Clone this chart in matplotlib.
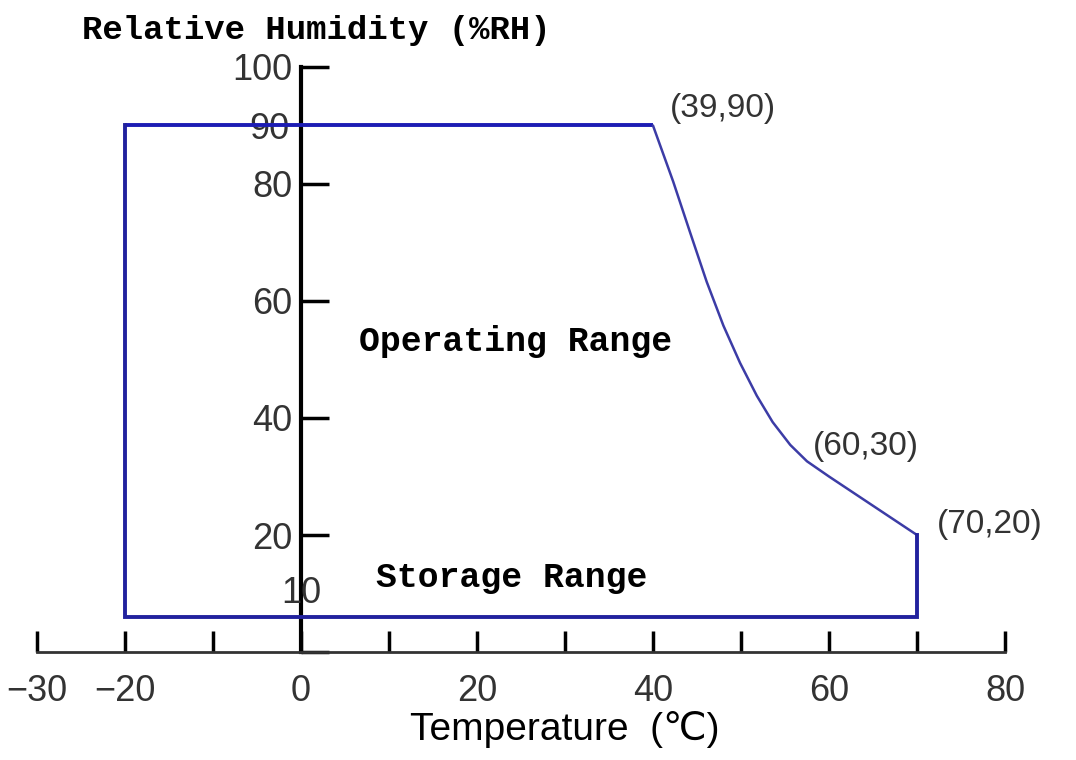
import matplotlib.pyplot as plt

# envelope of the operating / storage range (temperature in C, humidity in %RH)
temp = [-20, 40, 42.3, 44.2, 46.1, 48, 49.9, 51.8, 53.6, 55.6, 57.5, 60, 70, 70, -20, -20]
rh = [90, 90, 80.4, 71.8, 63.3, 55.8, 49.4, 43.8, 39.3, 35.4, 32.6, 30, 20, 6, 6, 90]

x_major = [-30, -20, 0, 20, 40, 60, 80]
x_minor = [-10, 10, 30, 50, 70]
y_major = [0, 20, 40, 60, 80, 100]
y_major_labels = ['', '20', '40', '60', '80', '100']

point_labels = ['(39,90)', '(60,30)', '(70,20)']
point_x = [40, 60, 70]
point_y = [90, 30, 20]
point_offsets = [(17, 17), (-16, 30), (20, 11)]

sans = ['Liberation Sans', 'DejaVu Sans']
mono = ['Liberation Mono', 'DejaVu Sans Mono']

fig = plt.figure(figsize=(10.76, 7.6), dpi=100)
ax = fig.add_axes([0, 0, 1, 1])
ax.set_xlim(-34.2, 88.07)
ax.set_ylim(-18.46, 111.45)
ax.patch.set_visible(False)

# outline: straight parts thick, the curved part thinner
ax.plot(temp[:2], rh[:2], color='#1c1cb4', lw=2.8, zorder=4, solid_capstyle='butt')
ax.plot(temp[1:13], rh[1:13], color='#3c3ca6', lw=1.8, zorder=4,
        solid_joinstyle='round', solid_capstyle='round')
ax.plot(temp[12:], rh[12:], color='#22229e', lw=2.8, zorder=4, solid_joinstyle='miter')

for s in ['top', 'right']:
    ax.spines[s].set_visible(False)
ax.spines['left'].set_position(('data', 0))
ax.spines['bottom'].set_position(('data', 0))
ax.spines['left'].set_bounds(0, 100)
ax.spines['bottom'].set_bounds(-30, 80)
ax.spines['left'].set_linewidth(3)
ax.spines['left'].set_color('black')
ax.spines['bottom'].set_linewidth(2)
ax.spines['bottom'].set_color('#333333')

ax.set_xticks(x_major)
ax.set_xticks(x_minor, minor=True)
ax.set_xticklabels([str(v) if v >= 0 else '\u2212' + str(-v) for v in x_major],
                   family=sans, fontsize=26, color='#333333')
ax.tick_params(axis='x', which='both', direction='in', length=15, width=2.5,
               color='black', pad=16)

ax.set_yticks(y_major)
ax.set_yticklabels(y_major_labels, family=sans, fontsize=26, color='#333333')
ax.set_yticks([90], minor=True)
ax.set_yticklabels(['90'], minor=True, family=sans, fontsize=26, color='#333333')
ax.tick_params(axis='y', which='major', direction='in', length=20, width=2.5,
               color='black', pad=6)
ax.tick_params(axis='y', which='minor', length=0, pad=8)

ax.text(0, 10, '10', family=sans, fontsize=26, color='#333333',
        ha='center', va='center', zorder=3)

for lab, px, py, off in zip(point_labels, point_x, point_y, point_offsets):
    ax.annotate(lab, (px, py), xytext=off, textcoords='offset pixels',
                family=sans, fontsize=24, color='#333333', ha='left', va='center')

ax.text(24.4, 53, 'Operating Range', family=mono, fontweight='bold', fontsize=25,
        ha='center', va='center')
ax.text(24, 12.8, 'Storage Range', family=mono, fontweight='bold', fontsize=25,
        ha='center', va='center')

fig.text(82 / 1076, 1 - 30 / 760, 'Relative Humidity (%RH)', family=mono,
         fontweight='bold', fontsize=24.5, ha='left', va='center')
fig.text(565 / 1076, 1 - 730 / 760, 'Temperature  (\u2103)',
         family=['Liberation Sans', 'DejaVu Sans'], fontsize=28, ha='center', va='center')

fig.savefig('out.png', dpi=100, facecolor='white')
